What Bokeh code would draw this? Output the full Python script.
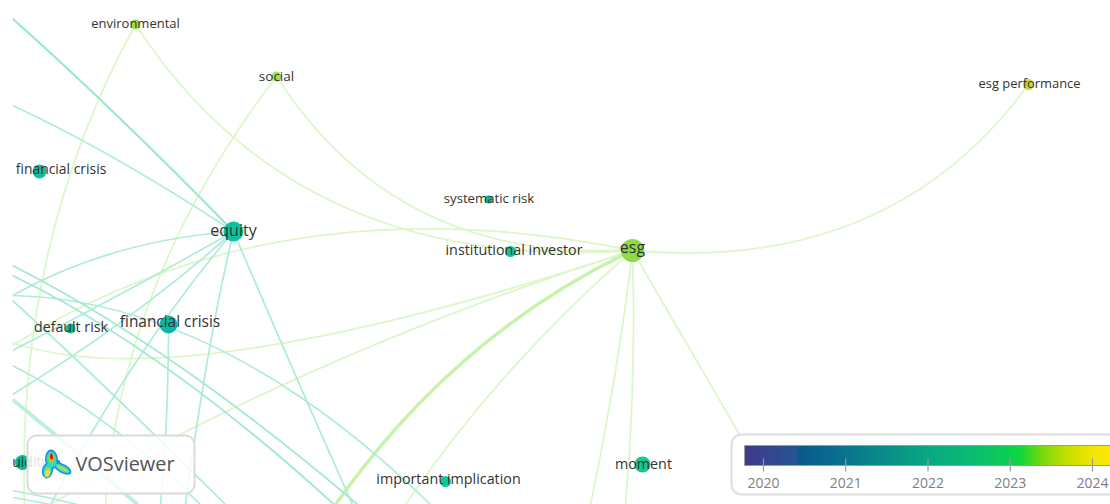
from bokeh.plotting import figure
from bokeh.models import Range1d
from bokeh.core.properties import value
from bokeh.embed import file_html
from bokeh.resources import INLINE

# ---- nodes (map position, size, colour, label) ----
node_labels = ["environmental", "social", "esg performance", "financial crisis", "equity", "systematic risk",
               "institutional investor", "esg", "default risk", "financial crisis", "moment",
               "important implication", "liquidity"]
node_x = [135, 276, 1028, 39, 233, 488, 510, 632, 70, 168, 642, 445, 22]
node_y = [24, 76, 84, 171, 231, 199, 251, 250, 328, 324, 464, 481, 462]
node_size = [10, 10, 11, 14, 20, 8, 11, 23, 10, 18, 16, 11, 15]
node_color = ["#a2dc48", "#a6de50", "#c6da3c", "#0fc09f", "#10c09c", "#0cba98", "#0fc59a", "#8ed948",
              "#14b98c", "#0cb8a0", "#13c98c", "#11c795", "#10b994"]
label_x = [135, 276, 1029, 60.5, 233, 488.5, 513.5, 632, 70.5, 169.5, 643, 448, 22]
label_y = [22, 75.5, 82.5, 168, 229, 197.5, 249, 246.5, 326, 321, 462.5, 478, 460.5]
label_size = [13, 13.5, 12.9, 13.9, 16, 13.2, 14.3, 16, 14.2, 15.4, 14.3, 14.3, 14]

# ---- links: x0, y0, cx, cy, x1, y1 ----
teal_links = [
    (233, 231, 110, 240, 12, 295),
    (233, 231, 130, 290, 12, 350),
    (233, 231, 140, 315, 12, 394),
    (233, 231, 140, 340, 50, 504),
    (233, 231, 207, 340, 185, 504),
    (233, 231, 290, 365, 352, 504),
    (233, 231, 110, 150, 12, 105),
    (168, 324, 168, 420, 160, 504),
    (12, 295, 220, 300, 430, 504),
    (12, 300, 100, 380, 225, 504),
    (12, 365, 110, 415, 200, 504),
    (12, 490, 45, 496, 77, 504),
    (12, 497, 30, 500, 50, 504),
]
teal_double_links = [
    (12, 265, 172, 346, 357, 504),
    (12, 275, 164, 348, 340, 510),
]
teal_strong_links = [
    (233, 231, 115, 110, 12, 18),
]
teal_thick_links = [
    (12, 399, 75, 450, 137, 504),
]
green_links = [
    (135, 24, 16, 240, 24, 504),
    (135, 24, 297, 273, 632, 250),
    (276, 76, 396, 263, 632, 250),
    (276, 76, 120, 280, 105, 504),
    (632, 250, 890, 273, 1028, 84),
    (632, 250, 278, 178, 12, 345),
    (632, 250, 178, 400, 12, 342),
    (632, 250, 319, 349, 50, 504),
    (632, 250, 500, 365, 405, 504),
    (632, 250, 618, 370, 590, 504),
    (632, 250, 636, 380, 625, 504),
    (632, 250, 690, 350, 760, 470),
    (632, 250, 570, 250, 510, 250),
]
green_thick_links = [
    (632, 250, 456, 333, 335, 504),
]

# ---- VOSviewer logo blobs: x, y, width, height, angle, colour (back to front) ----
logo_x = [51, 47, 62, 56, 51, 47, 62, 51, 47, 62, 51, 47, 51]
logo_y = [459, 470, 468, 463, 459, 470, 468, 458, 472, 468, 457, 473, 456]
logo_w = [13, 11, 20, 8, 10, 8, 16, 7, 6, 12, 5, 4, 3]
logo_h = [20, 16, 9, 8, 16, 13, 6, 12, 10, 3, 9, 7, 6]
logo_a = [0.1, -0.2, -0.5, 0, 0.1, -0.2, -0.5, 0.1, -0.2, -0.5, 0.1, -0.2, 0.1]
logo_c = ["#1c8ee0", "#1c8ee0", "#1c8ee0", "#1c8ee0", "#35d8c8", "#35d8c8", "#35d8c8",
          "#5fdc6c", "#a6e04c", "#a6e04c", "#f0b020", "#f0dc3c", "#d8141c"]

# ---- colour bar ----
tick_years = [2020, 2021, 2022, 2023, 2024]
bar_years = [2019.77, 2020.1, 2020.38, 2020.45, 2021.0, 2021.5, 2022.0, 2022.5, 2023.0, 2023.13, 2023.4, 2023.7, 2024.0, 2024.22]
bar_rgb = [(64, 56, 140), (52, 70, 146), (40, 84, 146), (8, 90, 142), (10, 116, 142), (10, 142, 136), (10, 168, 130),
           (12, 186, 116), (10, 208, 78), (20, 214, 56), (126, 216, 10), (200, 221, 0), (244, 229, 0), (250, 232, 0)]

YEAR_PX = 82.25
W, H = 1110, 504
years_start = 2020 - 763 / YEAR_PX
years_end = 2020 + (W - 763) / YEAR_PX

p = figure(width=W, height=H, x_range=Range1d(0, W), y_range=Range1d(H, 0),
           output_backend="svg", toolbar_location=None, min_border=0,
           x_axis_type=None, y_axis_type=None, outline_line_color=None,
           background_fill_color="#ffffff", border_fill_color="#ffffff")
p.extra_x_ranges["years"] = Range1d(years_start, years_end)
p.grid.visible = False


def draw_links(links, color, width):
    a = list(zip(*links))
    p.quadratic(x0=list(a[0]), y0=list(a[1]), cx=list(a[2]), cy=list(a[3]), x1=list(a[4]), y1=list(a[5]),
                line_color=color, line_width=width)


draw_links(green_links, "#def7ca", 1.8)
draw_links(green_thick_links, "#c8f2aa", 3.4)
draw_links(teal_thick_links, "#bdf0dc", 4.0)
draw_links(teal_links, "#aeecd9", 1.7)
draw_links(teal_double_links, "#a2e9d2", 1.9)
draw_links(teal_strong_links, "#9ae7cf", 2.2)

p.scatter(node_x, node_y, size=node_size, marker="circle", fill_color=node_color, line_color=None)

p.text(label_x, label_y, text=node_labels, text_font=value("Open Sans"), text_font_size=[f"{s}px" for s in label_size],
       text_color="#333333", text_align="center", text_baseline="middle")

# left edge of the map
p.quad(left=[0], right=[12], top=[0], bottom=[H], fill_color="#ffffff", line_color=None)

# VOSviewer badge
p.quad(left=[27], right=[194], top=[435], bottom=[493], fill_color="#ffffff", fill_alpha=0.85,
       line_color="#dadada", line_width=2, border_radius=9)
p.ellipse(logo_x, logo_y, width=logo_w, height=logo_h, angle=logo_a, fill_color=logo_c, line_color=None)
p.text([75], [463], text=["VOSviewer"], text_font=value("Open Sans"), text_font_size="19.9px",
       text_color="#555555", text_align="left", text_baseline="middle")

# colour-bar panel
p.quad(left=[731], right=[1140], top=[434], bottom=[494], fill_color="#ffffff", line_color="#dedede",
       line_width=2, border_radius=10)


def lerp_color(y):
    for i in range(len(bar_years) - 1):
        if bar_years[i] <= y <= bar_years[i + 1]:
            t = (y - bar_years[i]) / (bar_years[i + 1] - bar_years[i])
            c = [round(a + (b - a) * t) for a, b in zip(bar_rgb[i], bar_rgb[i + 1])]
            return "#%02x%02x%02x" % tuple(c)
    return "#%02x%02x%02x" % bar_rgb[-1]


n = 184
step = (bar_years[-1] - bar_years[0]) / n
lefts = [bar_years[0] + i * step for i in range(n)]
p.quad(left=lefts, right=[v + step * 2.5 for v in lefts], top=[445] * n, bottom=[465] * n,
       fill_color=[lerp_color(v + step / 2) for v in lefts], line_color=None, x_range_name="years")
p.segment(x0=[bar_years[0]], y0=[445], x1=[bar_years[-1]], y1=[445], line_color="#9a9a9a", line_width=1, x_range_name="years")
p.segment(x0=[bar_years[0]], y0=[465], x1=[bar_years[-1]], y1=[465], line_color="#9a9a9a", line_width=1, x_range_name="years")
p.segment(x0=[bar_years[0]], y0=[445], x1=[bar_years[0]], y1=[465], line_color="#9a9a9a", line_width=1, x_range_name="years")
p.segment(x0=tick_years, y0=[458] * 5, x1=tick_years, y1=[471] * 5, line_color="#9a9a9a", line_width=1.2, x_range_name="years")
p.text(tick_years, [482] * 5, text=[str(y) for y in tick_years], text_font=value("Open Sans"), text_font_size="14px",
       text_color="#808080", text_align="center", text_baseline="middle", x_range_name="years")

open("out.html", "w").write(file_html(p, INLINE))
